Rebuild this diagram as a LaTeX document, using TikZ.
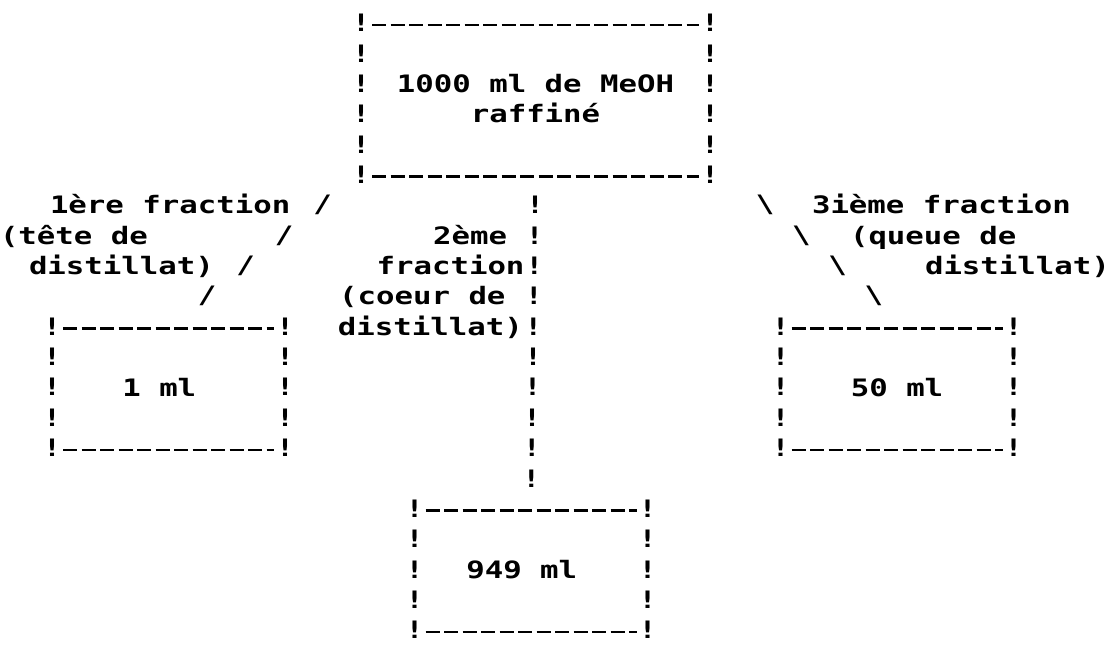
\documentclass[tikz,border=0pt]{standalone}
\usepackage{fontspec}
\newfontfamily\dm{DejaVu Sans Mono}[FakeStretch=1.28]
\usetikzlibrary{calc}
\tikzset{
  every node/.style={inner sep=0pt, outer sep=0pt},
  ascii/.style={font=\dm\bfseries\fontsize{24}{30.35}\selectfont, text=black},
  bigbox/.style={ascii, align=center, minimum width=349pt, minimum height=151.75pt},
  smallbox/.style={ascii, align=center, minimum width=233pt, minimum height=121.4pt},
  hdash/.style={line width=2.6pt, dash pattern=on 14pt off 4.5pt, black},
  lbl/.style={ascii, anchor=base west},
  rlbl/.style={ascii, anchor=base east}
}
\begin{document}
\begin{tikzpicture}[x=1pt, y=-1pt]
\fill[white] (0,0) rectangle (1116,647);
\useasboundingbox (0,0) rectangle (1116,647);

% boxes
\node[bigbox] (top) at (535.5,98.875) {1000 ml de MeOH\\raffiné};
\node[smallbox] (b1) at (168.5,387.2) {1 ml\phantom{x}};
\node[smallbox] (b50) at (897,387.2) {50 ml};
\node[smallbox] (b949) at (531,569.3) {949 ml\phantom{x}};

% box borders drawn in the ASCII manner
\foreach \b/\n in {top/5,b1/4,b50/4,b949/4} {
  \draw[hdash] ([xshift=11pt,yshift=-2pt]\b.north west) -- ([xshift=-11pt,yshift=-2pt]\b.north east);
  \draw[hdash] ([xshift=11pt,yshift=-2pt]\b.south west) -- ([xshift=-11pt,yshift=-2pt]\b.south east);
  \foreach \k in {0,...,\n} {
    \node[ascii] (\b-l\k) at ($(\b.north west)!{\k/\n}!(\b.south west)$) {!};
    \node[ascii] (\b-r\k) at ($(\b.north east)!{\k/\n}!(\b.south east)$) {!};
  }
}

% connectors
\foreach \k in {1,...,10}
  \node[ascii] (v\k) at ($(top.south)!{\k/11}!(b949.north)$) {!};
\foreach \k in {1,...,4}
  \node[ascii] (s\k) at ($(top.south west)!{\k/5}!(b1.north)$) {/};
\coordinate (c3a) at ($(top.south east)+(19,0)$);
\coordinate (c3b) at ($(b50.north)+(13,0)$);
\foreach \k in {1,...,4}
  \node[ascii] (bs\k) at ($(c3a)!{\k/5}!(c3b)$) {\textbackslash};

% labels, left
\node[lbl] (l1) at (50,213.85) {1ère fraction};
\node[lbl] (l2) at (0,244.2) {(tête de};
\node[lbl] (l3) at (29,274.55) {distillat)};
% labels, middle
\node[rlbl] (m1) at (507,244.2) {2ème};
\node[rlbl] (m2) at (524.5,274.55) {fraction};
\node[rlbl] (m3) at (505.5,304.9) {(coeur de};
\node[rlbl] (m4) at (522.8,335.25) {distillat)};
% labels, right
\node[lbl] (r1) at (812,213.85) {3ième fraction};
\node[lbl] (r2) at (850,244.2) {(queue de};
\node[lbl] (r3) at (925,274.55) {distillat)};
\end{tikzpicture}
\end{document}
